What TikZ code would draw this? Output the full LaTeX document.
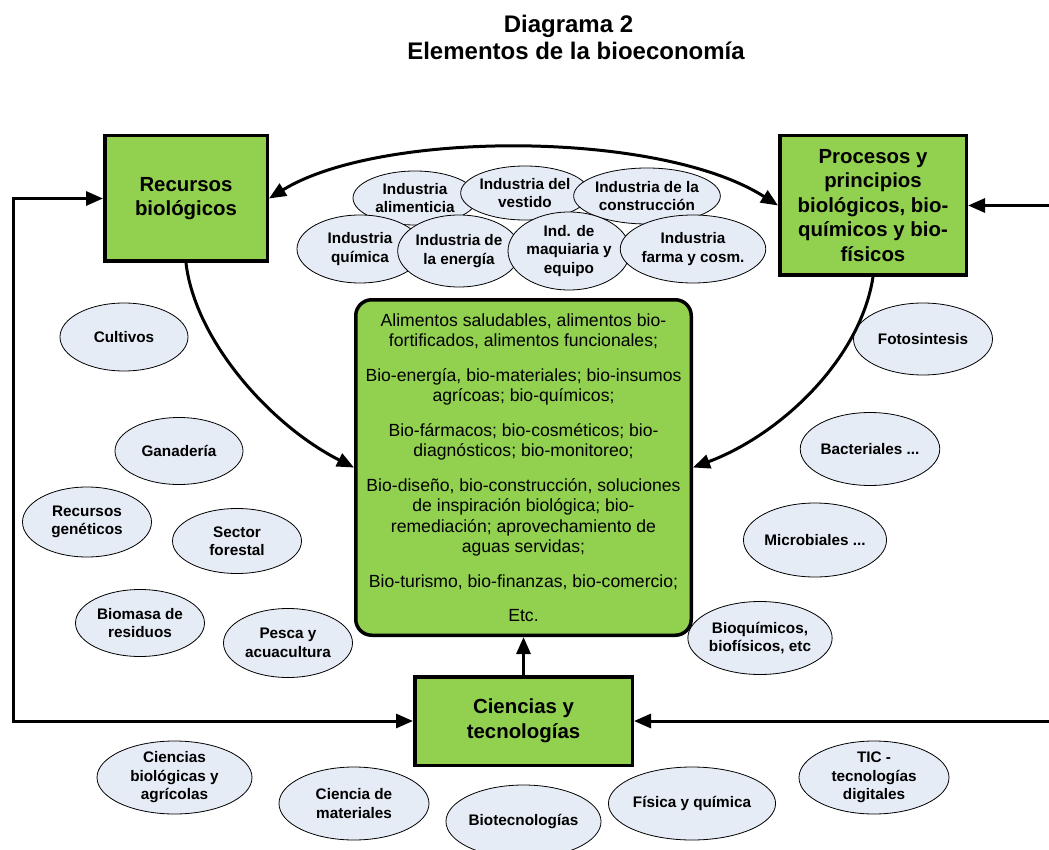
\documentclass[tikz,border=0pt]{standalone}
\usepackage{fontspec}
\setmainfont{Liberation Sans}
\usetikzlibrary{shapes.geometric,arrows.meta}
\definecolor{boxgreen}{RGB}{146,208,80}
\definecolor{ellfill}{RGB}{230,236,246}
\begin{document}
\begin{tikzpicture}[x=1pt,y=-1pt,
  ell/.style={ellipse, draw=black, line width=0.8pt, fill=ellfill, inner sep=0pt, align=center,
    font=\fontsize{15.3}{18.5}\selectfont\bfseries},
  gbox/.style={rectangle, draw=black, line width=3.5pt, fill=boxgreen, inner sep=0pt, align=center,
    font=\fontsize{20.4}{24.5}\selectfont\bfseries},
  tip/.tip={Triangle[length=17pt,width=14pt]},
  conn/.style={line width=3pt, -tip},
  titlefont/.style={font=\fontsize{24}{28}\selectfont\bfseries, inner sep=0pt, anchor=base},
]
\useasboundingbox (0,0) rectangle (1049,850);

% title
\node[titlefont] (t1) at (568.5,33) {Diagrama 2};
\node[titlefont] (t2) at (576,60) {Elementos de la bioeconomía};

% main boxes
\node[gbox, minimum width=162.5pt, minimum height=125.5pt] (rec) at (186,198.5) {Recursos\\biológicos};
\node[gbox, minimum width=186.5pt, minimum height=139.5pt] (proc) at (873,205.5)
  {Procesos y\\principios\\biológicos, bio-\\químicos y bio-\\físicos};
\node[gbox, minimum width=217.5pt, minimum height=88.5pt] (cien) at (523.5,721) {Ciencias y\\tecnologías};
\node[rectangle, rounded corners=16pt, draw=black, line width=3.5pt, fill=boxgreen, inner sep=0pt,
  align=center, minimum width=335.5pt, minimum height=335.5pt,
  font=\fontsize{17.6}{20.5}\selectfont] (cbox) at (523.5,467.5)
  {Alimentos saludables, alimentos bio-\\fortificados, alimentos funcionales;\\[14pt]
   Bio-energía, bio-materiales; bio-insumos\\agrícoas; bio-químicos;\\[14pt]
   Bio-fármacos; bio-cosméticos; bio-\\diagnósticos; bio-monitoreo;\\[14pt]
   Bio-diseño, bio-construcción, soluciones\\de inspiración biológica; bio-\\remediación; aprovechamiento de\\aguas servidas;\\[14pt]
   Bio-turismo, bio-finanzas, bio-comercio;\\[14pt]
   Etc.};

% industry cluster
\node[ell, minimum width=124pt, minimum height=54pt] (i1) at (415,198) {Industria\\alimenticia};
\node[ell, minimum width=124pt, minimum height=54pt] (i2) at (525,193) {Industria del\\vestido};
\node[ell, minimum width=145pt, minimum height=56pt] (i3) at (647,196) {Industria de la\\construcción};
\node[ell, minimum width=126pt, minimum height=68pt] (i4) at (360,249) {Industria\\química};
\node[ell, minimum width=122pt, minimum height=72pt] (i5) at (459,251) {Industria de\\la energía};
\node[ell, minimum width=122pt, minimum height=78pt] (i6) at (569,251) {Ind. de\\maquiaria y\\equipo};
\node[ell, minimum width=140pt, minimum height=68pt] (i7) at (693,249) {Industria\\farma y cosm.};

% left resources
\node[ell, minimum width=128pt, minimum height=68pt] (l1) at (124,337) {Cultivos};
\node[ell, minimum width=128pt, minimum height=67pt] (l2) at (179,451) {Ganadería};
\node[ell, minimum width=129pt, minimum height=70pt] (l3) at (87,522) {Recursos\\genéticos};
\node[ell, minimum width=129pt, minimum height=65pt] (l4) at (237,541) {Sector\\forestal};
\node[ell, minimum width=129pt, minimum height=67pt] (l5) at (140,623) {Biomasa de\\residuos};
\node[ell, minimum width=129pt, minimum height=69pt] (l6) at (288,643) {Pesca y\\acuacultura};

% right processes
\node[ell, minimum width=139pt, minimum height=72pt] (r1) at (923,339) {Fotosintesis};
\node[ell, minimum width=137pt, minimum height=73pt] (r2) at (870,449) {Bacteriales ...};
\node[ell, minimum width=137pt, minimum height=74pt] (r3) at (815,540) {Microbiales ...};
\node[ell, minimum width=137pt, minimum height=73pt] (r4) at (760,638) {Bioquímicos,\\biofísicos, etc};

% bottom sciences
\node[ell, minimum width=155pt, minimum height=73pt] (b1) at (174.5,777.5) {Ciencias\\biológicas y\\agrícolas};
\node[ell, minimum width=150pt, minimum height=73pt] (b2) at (354,803.5) {Ciencia de\\materiales};
\node[ell, minimum width=151pt, minimum height=73pt] (b3) at (523.5,821.5) {Biotecnologías};
\node[ell, minimum width=150pt, minimum height=73pt] (b4) at (692,803.5) {Física y química};
\node[ell, minimum width=150pt, minimum height=73pt] (b5) at (874,777.5) {TIC -\\tecnologías\\digitales};

% connectors
\coordinate (lc) at (13,721);
\coordinate (rp) at (1049,205.5);
\coordinate (rc) at (1049,721);

\draw[line width=3pt, tip-tip] (rec.east) .. controls (380,130) and (660,130) .. (proc.west);
\draw[conn] (rec.south) .. controls (195,340) and (270,425) .. (cbox.west);
\draw[conn] (proc.south) .. controls (860,360) and (780,435) .. (cbox.east);
\draw[conn] (cien.north) -- (cien.north |- cbox.south);
\draw[line width=3pt, tip-tip] (rec.west) -| (lc) -- (cien.west);
\draw[conn] (rp) -- (proc.east);
\draw[conn] (rc) -- (cien.east);
\end{tikzpicture}
\end{document}
